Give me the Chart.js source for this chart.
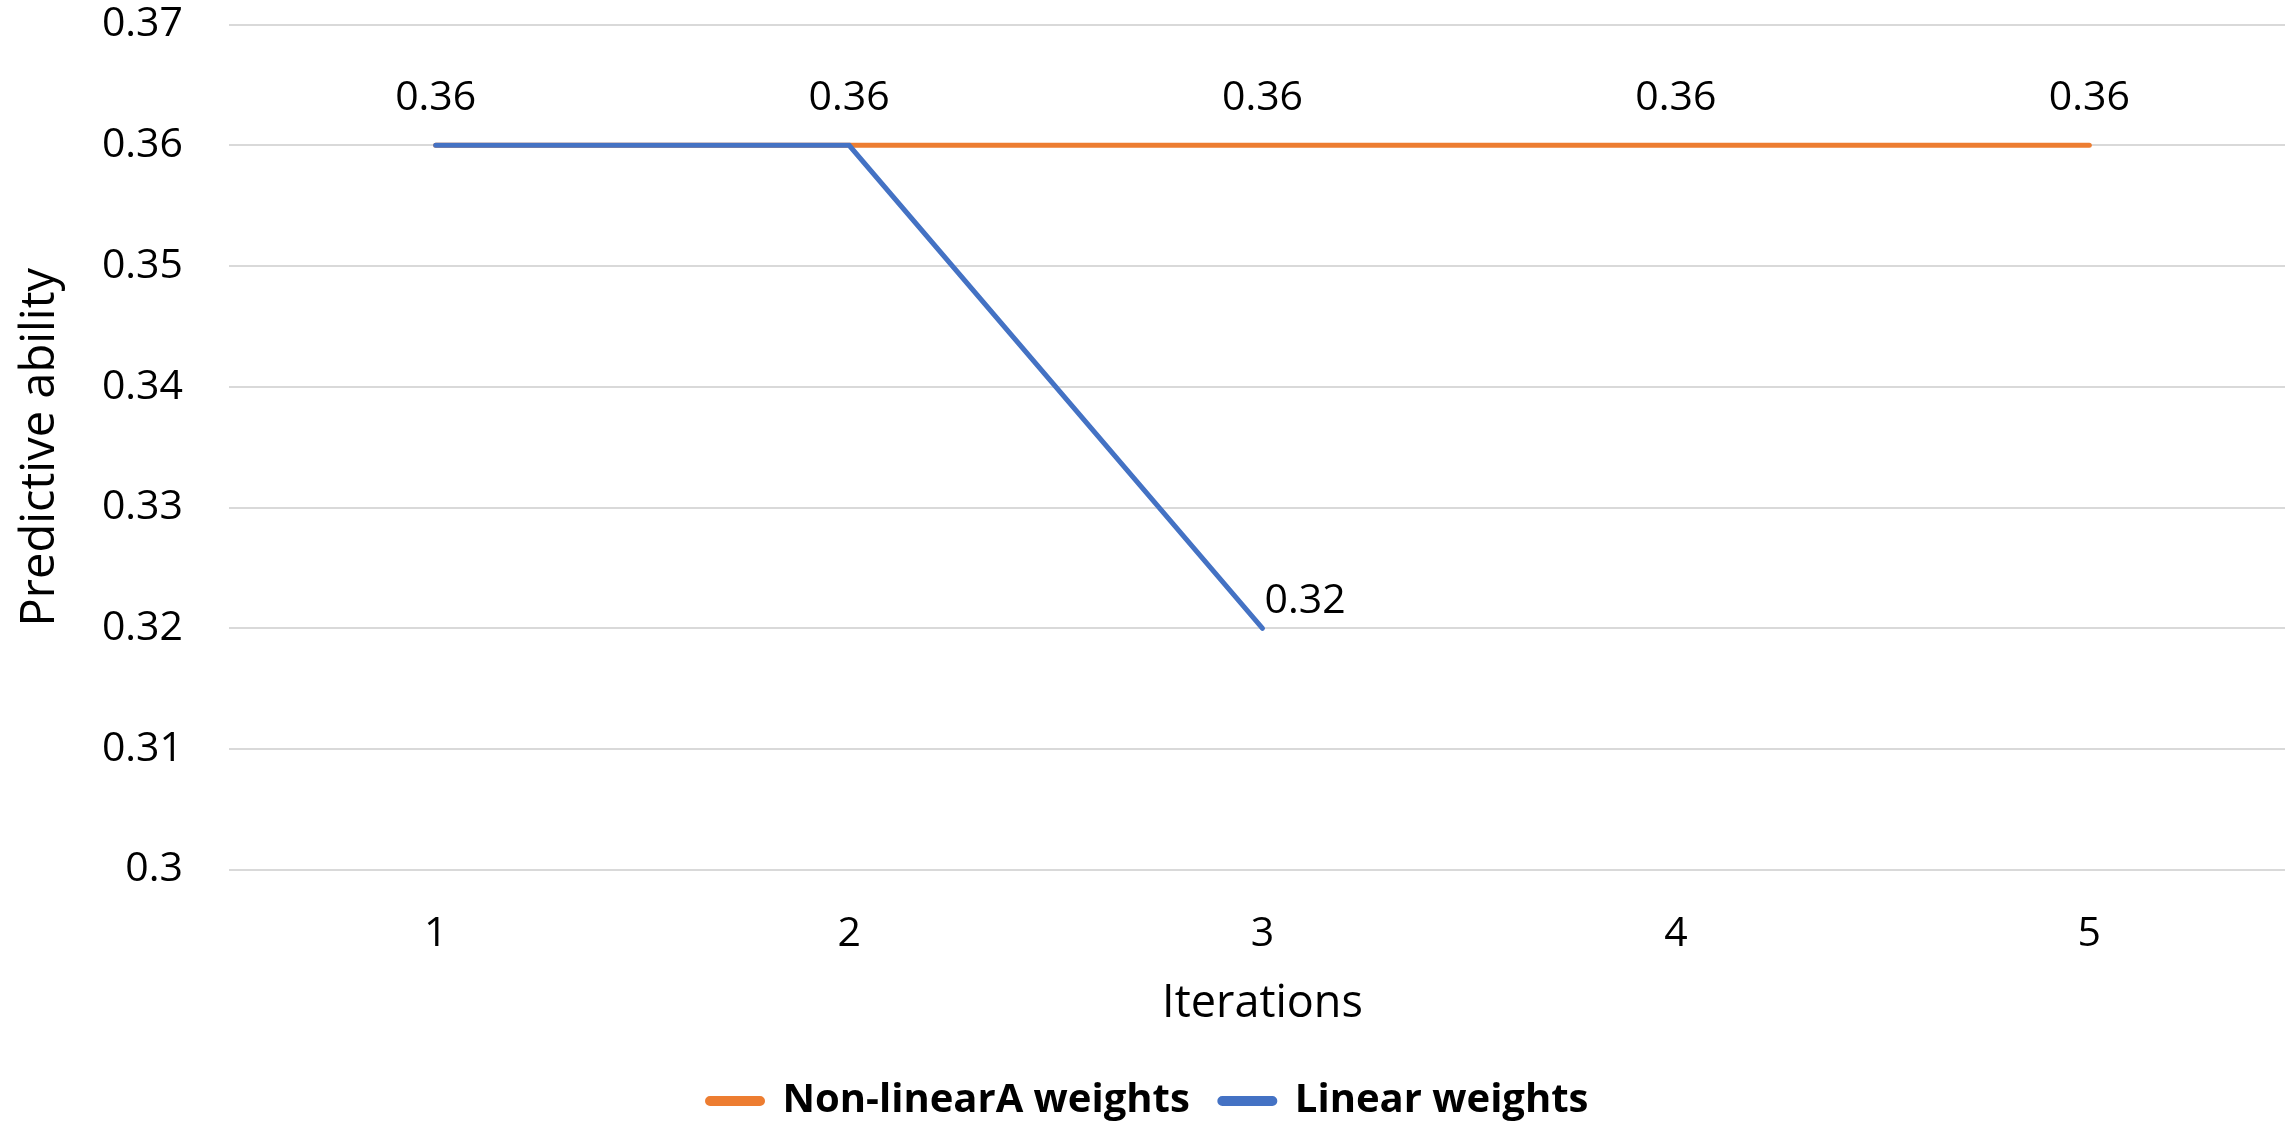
<!DOCTYPE html>
<html>
<head>
<meta charset="utf-8">
<title>Predictive ability by iteration</title>
<script src="https://cdn.jsdelivr.net/npm/chart.js@4.4.0/dist/chart.umd.min.js"></script>
<style>
  html, body { margin: 0; padding: 0; background: #fff; overflow: hidden; }
  #wrap { width: 2296px; height: 1123px; }
</style>
</head>
<body>
<div id="wrap"><canvas id="chart"></canvas></div>
<script>
// data
const iterations = ['1', '2', '3', '4', '5'];
const nonLinearA = [0.36, 0.36, 0.36, 0.36, 0.36];
const linear = [0.36, 0.36, 0.32, null, null];

// which points carry a value label
const nonLinearALabelIdx = [0, 1, 2, 3, 4];
const linearLabelIdx = [2];

const yMin = 0.3;
const yMax = 0.37;
const yStep = 0.01;

const FONT = "'Open Sans', sans-serif";
const ORANGE = '#ED7D31';
const BLUE = '#4472C4';

// simple value labels (no datalabels plugin available offline)
const valueLabels = {
    id: 'valueLabels',
    afterDatasetsDraw(chart) {
        const ctx = chart.ctx;
        ctx.save();
        ctx.font = `41px ${FONT}`;
        ctx.fillStyle = '#000';
        ctx.textBaseline = 'middle';
        chart.data.datasets.forEach((ds, i) => {
            const meta = chart.getDatasetMeta(i);
            meta.data.forEach((pt, j) => {
                const v = ds.data[j];
                if (v == null || !ds.labelIdx.includes(j)) return;
                const txt = String(+v.toFixed(2));
                if (ds.labelPos === 'right') {
                    ctx.textAlign = 'left';
                    ctx.fillText(txt, pt.x + 2, pt.y - 27);
                } else {
                    ctx.textAlign = 'center';
                    ctx.fillText(txt, pt.x, pt.y - 47);
                }
            });
        });
        ctx.restore();
    }
};

new Chart(document.getElementById('chart').getContext('2d'), {
    type: 'line',
    data: {
        labels: iterations,
        datasets: [
            {
                label: 'Non-linearA weights',
                data: nonLinearA,
                borderColor: ORANGE,
                backgroundColor: ORANGE,
                borderWidth: 5,
                borderCapStyle: 'round',
                pointRadius: 0,
                order: 2,
                labelIdx: nonLinearALabelIdx,
                labelPos: 'top'
            },
            {
                label: 'Linear weights',
                data: linear,
                borderColor: BLUE,
                backgroundColor: BLUE,
                borderWidth: 5,
                borderCapStyle: 'round',
                pointRadius: 0,
                order: 1,
                labelIdx: linearLabelIdx,
                labelPos: 'right'
            }
        ]
    },
    options: {
        responsive: true,
        maintainAspectRatio: false,
        animation: false,
        layout: { padding: { top: 0, left: 0, right: 0, bottom: -8 } },
        plugins: {
            tooltip: { enabled: false },
            legend: {
                position: 'bottom',
                labels: {
                    color: '#000',
                    font: { family: FONT, size: 40, weight: 'bold' },
                    boxWidth: 55,
                    boxHeight: 5,
                    useBorderRadius: true,
                    borderRadius: 2.5,
                    padding: 30,
                    sort: (a, b) => a.datasetIndex - b.datasetIndex
                }
            }
        },
        scales: {
            x: {
                offset: true,
                grid: { display: false },
                border: { display: false },
                ticks: { color: '#000', font: { family: FONT, size: 41 }, padding: 32 },
                title: {
                    display: true,
                    text: 'Iterations',
                    color: '#000',
                    font: { family: FONT, size: 45 },
                    padding: { top: -14, bottom: 20 }
                }
            },
            y: {
                min: yMin,
                max: yMax,
                afterFit: s => { s.width = 229; },
                // invisible tick marks give the gap between labels and plot
                grid: { color: '#D9D9D9', lineWidth: 2, drawTicks: true, tickLength: 46, tickColor: 'rgba(0,0,0,0)' },
                border: { display: false },
                ticks: {
                    stepSize: yStep,
                    color: '#000',
                    font: { family: FONT, size: 41 },
                    padding: 0,
                    callback: v => String(+v.toFixed(2))
                },
                title: {
                    display: true,
                    text: 'Predictive ability',
                    color: '#000',
                    font: { family: FONT, size: 47 },
                    padding: { top: 12, bottom: 0 }
                }
            }
        }
    },
    plugins: [valueLabels]
});
</script>
</body>
</html>
